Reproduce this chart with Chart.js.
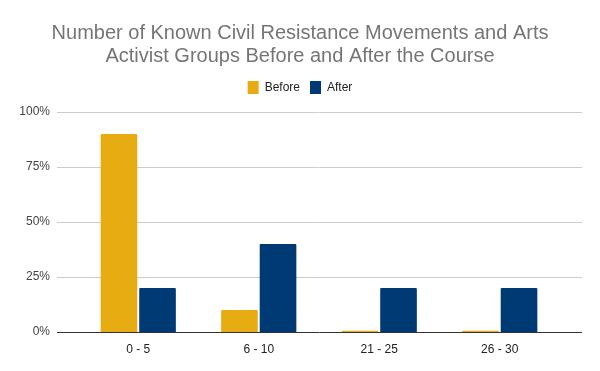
<!DOCTYPE html>
<html>
<head>
<meta charset="utf-8">
<script src="https://cdn.jsdelivr.net/npm/chart.js@4"></script>
<style>
  html, body { margin: 0; padding: 0; background: #fff; }
  #wrap { width: 600px; height: 371px; }
</style>
</head>
<body>
<div id="wrap"><canvas id="chart"></canvas></div>
<script>
const categories = ['0 - 5', '6 - 10', '21 - 25', '26 - 30'];
const beforeValues = [90, 10, 0.6, 0.6];
const afterValues = [20, 40, 20, 20];
const yTicks = [0, 25, 50, 75, 100];

// gridlines run a bit past the category area on both sides, like the sheets export
const gridPlugin = {
    id: 'wideGrid',
    beforeDatasetsDraw(chart) {
        const { ctx, chartArea, scales } = chart;
        ctx.save();
        yTicks.forEach(v => {
            const y = Math.round(scales.y.getPixelForValue(v)) + 0.5;
            ctx.strokeStyle = v === 0 ? '#333333' : '#cccccc';
            ctx.lineWidth = 1;
            ctx.beginPath();
            ctx.moveTo(chartArea.left - 21, y);
            ctx.lineTo(chartArea.right + 22, y);
            ctx.stroke();
        });
        ctx.restore();
    }
};

const legendSpacing = {
    id: 'legendSpacing',
    beforeInit(chart) {
        const fit = chart.legend.fit;
        chart.legend.fit = function () {
            fit.bind(chart.legend)();
            this.height += 8;
        };
    }
};

new Chart(document.getElementById('chart'), {
    type: 'bar',
    data: {
        labels: categories,
        datasets: [{
            label: 'Before',
            data: beforeValues,
            backgroundColor: '#e6ac12',
            borderRadius: 1,
            categoryPercentage: 0.64,
            barPercentage: 0.95
        }, {
            label: 'After',
            data: afterValues,
            backgroundColor: '#003a75',
            borderRadius: 1,
            categoryPercentage: 0.64,
            barPercentage: 0.95
        }]
    },
    options: {
        responsive: true,
        maintainAspectRatio: false,
        animation: false,
        layout: { padding: 0 },
        plugins: {
            title: {
                display: true,
                text: ['Number of Known Civil Resistance Movements and Arts', 'Activist Groups Before and After the Course'],
                color: '#757575',
                font: { family: 'Liberation Sans', size: 20, weight: 'normal', lineHeight: '23px' },
                padding: { top: 22, bottom: 3 }
            },
            legend: {
                labels: {
                    boxWidth: 11,
                    boxHeight: 13,
                    color: '#222222',
                    font: { family: 'Liberation Sans', size: 12 },
                    padding: 10
                }
            },
            tooltip: { enabled: false }
        },
        scales: {
            x: {
                afterFit(scale) { scale.height = 39; },
                grid: { display: false, drawTicks: false },
                border: { display: false },
                ticks: { color: '#222222', font: { family: 'Liberation Sans', size: 12 }, padding: 10 }
            },
            y: {
                min: 0,
                max: 100,
                afterFit(scale) { scale.width = 78; },
                grid: { display: false, drawTicks: false },
                border: { display: false },
                ticks: {
                    stepSize: 25,
                    padding: 28,
                    color: '#444444',
                    font: { family: 'Liberation Sans', size: 12 },
                    callback: v => v + '%'
                }
            },
            // empty axis on the right just to keep the plot centred like the original
            yRight: {
                position: 'right',
                afterFit(scale) { scale.width = 40; },
                grid: { display: false, drawTicks: false },
                border: { display: false },
                ticks: { display: false }
            }
        }
    },
    plugins: [gridPlugin, legendSpacing]
});
</script>
</body>
</html>
